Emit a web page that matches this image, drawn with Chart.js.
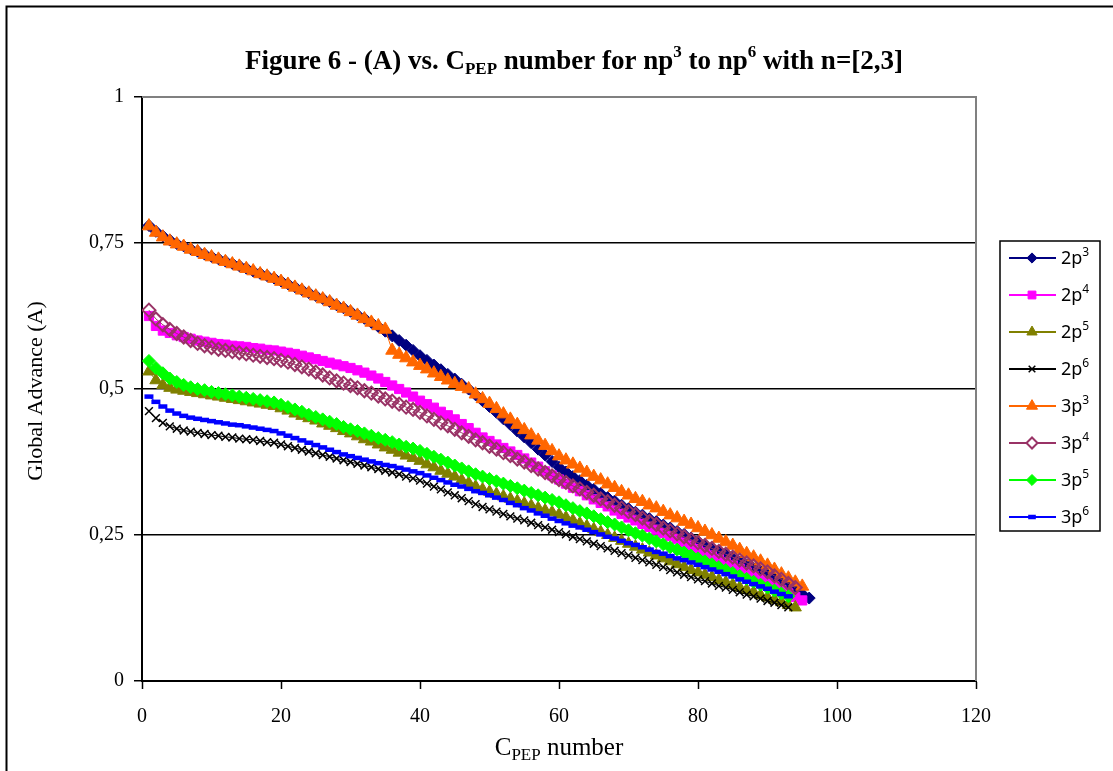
<!DOCTYPE html>
<html>
<head>
<meta charset="utf-8">
<script src="https://cdn.jsdelivr.net/npm/chart.js@4.4.0/dist/chart.umd.min.js"></script>
<style>
html, body { margin: 0; padding: 0; background: #fff; }
#wrap { width: 1113px; height: 771px; position: relative; }
</style>
</head>
<body>
<div id="wrap"><canvas id="fig6"></canvas></div>
<script>
// C_PEP number (x values)
const cpepNumber = [1,2,3,4,5,6,7,8,9,10,11,12,13,14,15,16,17,18,19,20,
  21,22,23,24,25,26,27,28,29,30,31,32,33,34,35,36,37,38,39,40,
  41,42,43,44,45,46,47,48,49,50,51,52,53,54,55,56,57,58,59,60,
  61,62,63,64,65,66,67,68,69,70,71,72,73,74,75,76,77,78,79,80,
  81,82,83,84,85,86,87,88,89,90,91,92,93,94,95,96];

// Global Advance (A)
const adv2p3 = [.780,.770,.762,.755,.749,.745,.740,.736,.731,.727,.723,.719,.715,.711,.707,.702,.698,.694,.690,.685,
  .680,.675,.670,.665,.660,.655,.650,.644,.639,.633,.627,.621,.614,.607,.599,.591,.583,.575,.566,.557,
  .549,.541,.533,.525,.517,.508,.500,.490,.480,.470,.460,.449,.439,.428,.418,.408,.397,.387,.376,.366,
  .358,.350,.343,.335,.328,.321,.314,.308,.301,.295,.289,.284,.278,.273,.267,.262,.256,.251,.245,.239,
  .233,.227,.221,.216,.210,.204,.199,.193,.188,.182,.176,.170,.163,.156,.149,.142];
const adv2p4 = [.625,.608,.600,.596,.592,.589,.586,.583,.581,.579,.577,.576,.574,.573,.572,.570,.569,.567,.566,.564,
  .562,.560,.557,.554,.551,.548,.545,.542,.539,.536,.532,.528,.523,.518,.512,.506,.500,.494,.487,.480,
  .474,.468,.461,.455,.448,.440,.433,.425,.417,.411,.405,.399,.393,.387,.381,.374,.367,.359,.352,.345,
  .338,.331,.325,.318,.311,.305,.299,.292,.286,.280,.275,.269,.264,.259,.253,.248,.243,.237,.232,.226,
  .220,.215,.209,.203,.198,.192,.186,.180,.174,.168,.162,.156,.150,.144,.138];
const adv2p5 = [.530,.515,.507,.502,.499,.497,.495,.493,.491,.489,.487,.485,.483,.481,.479,.477,.475,.473,.471,.467,
  .463,.458,.454,.450,.446,.441,.437,.433,.428,.424,.419,.414,.410,.405,.400,.396,.391,.386,.382,.377,
  .371,.366,.360,.355,.350,.344,.339,.333,.328,.324,.320,.316,.312,.308,.304,.300,.296,.292,.289,.285,
  .280,.275,.270,.265,.260,.255,.250,.245,.240,.235,.230,.225,.220,.215,.210,.205,.200,.195,.190,.186,
  .182,.178,.173,.169,.165,.160,.156,.152,.147,.143,.139,.135,.130,.126];
const adv2p6 = [.462,.450,.442,.436,.432,.429,.427,.425,.423,.421,.420,.418,.417,.415,.414,.413,.411,.409,.408,.405,
  .402,.399,.396,.393,.390,.387,.384,.381,.378,.375,.372,.369,.366,.363,.360,.357,.354,.350,.347,.343,
  .338,.333,.328,.323,.318,.313,.308,.303,.298,.294,.290,.286,.282,.278,.275,.271,.267,.263,.259,.255,
  .251,.247,.243,.239,.235,.231,.227,.223,.219,.215,.211,.207,.203,.199,.195,.190,.186,.182,.178,.174,
  .171,.167,.163,.160,.156,.152,.148,.145,.141,.137,.134,.130,.126];
const adv3p3 = [.779,.768,.760,.753,.748,.744,.739,.735,.730,.726,.722,.718,.714,.710,.706,.702,.697,.693,.689,.684,
  .679,.674,.669,.664,.659,.654,.649,.643,.638,.632,.626,.620,.614,.608,.602,.566,.559,.553,.546,.540,
  .534,.527,.521,.515,.509,.504,.500,.491,.483,.475,.466,.457,.448,.439,.430,.421,.412,.403,.394,.385,
  .378,.371,.364,.357,.350,.344,.337,.331,.324,.318,.312,.307,.301,.296,.290,.284,.279,.273,.268,.262,
  .256,.250,.244,.238,.232,.225,.218,.212,.205,.198,.191,.183,.176,.169,.162];
const adv3p4 = [.635,.620,.610,.602,.595,.589,.583,.578,.574,.571,.568,.566,.564,.562,.560,.558,.556,.554,.552,.549,
  .546,.542,.538,.534,.529,.524,.519,.514,.510,.506,.502,.497,.493,.488,.483,.479,.474,.469,.465,.460,
  .454,.448,.442,.437,.431,.425,.419,.413,.408,.402,.397,.391,.386,.380,.375,.369,.363,.357,.351,.345,
  .340,.334,.329,.323,.318,.312,.307,.301,.296,.290,.285,.279,.273,.268,.262,.257,.252,.247,.242,.237,
  .232,.227,.222,.217,.212,.207,.202,.197,.192,.187,.180,.174,.167,.160];
const adv3p5 = [.548,.536,.527,.518,.512,.507,.503,.500,.498,.495,.493,.491,.489,.487,.485,.483,.481,.479,.477,.473,
  .469,.465,.461,.456,.452,.448,.444,.440,.435,.431,.428,.424,.420,.416,.413,.409,.405,.401,.398,.394,
  .389,.384,.379,.374,.369,.364,.359,.354,.350,.346,.342,.338,.334,.330,.326,.322,.318,.314,.310,.306,
  .301,.296,.291,.287,.282,.277,.272,.268,.263,.258,.253,.249,.244,.239,.234,.229,.225,.220,.215,.210,
  .205,.200,.195,.190,.185,.180,.175,.170,.165,.160,.155,.150,.145];
const adv3p6 = [.487,.478,.470,.463,.458,.454,.451,.449,.447,.445,.443,.441,.439,.438,.436,.434,.432,.430,.428,.424,
  .420,.416,.412,.408,.404,.400,.396,.392,.388,.385,.382,.379,.376,.373,.370,.368,.365,.362,.359,.356,
  .352,.348,.344,.340,.336,.333,.329,.325,.322,.318,.314,.310,.305,.301,.296,.292,.287,.283,.278,.274,
  .270,.266,.263,.259,.255,.251,.247,.244,.240,.236,.233,.229,.225,.221,.218,.214,.210,.207,.203,.199,
  .195,.191,.187,.183,.179,.174,.170,.166,.162,.158,.153,.149,.145];

const seriesValues = [adv2p3, adv2p4, adv2p5, adv2p6, adv3p3, adv3p4, adv3p5, adv3p6];
const seriesBase = ['2p', '2p', '2p', '2p', '3p', '3p', '3p', '3p'];
const seriesPower = ['3', '4', '5', '6', '3', '4', '5', '6'];
const yTickValues = [0, 0.25, 0.5, 0.75, 1];
const xTickValues = [0, 20, 40, 60, 80, 100, 120];

// marker look of each series (Excel default palette)
const looks = [
  { color: '#000080', style: 'rectRot', r: 6, fill: '#000080', bw: 1 },
  { color: '#FF00FF', style: 'rect', r: 6.5, fill: '#FF00FF', bw: 1 },
  { color: '#808000', style: 'triangle', r: 7, fill: '#808000', bw: 1 },
  { color: '#000000', style: 'crossRot', r: 5.5, fill: '#000000', bw: 1.5 },
  { color: '#FF6600', style: 'triangle', r: 7.5, fill: '#FF6600', bw: 1 },
  { color: '#993366', style: 'rectRot', r: 6.5, fill: 'rgba(0,0,0,0)', bw: 2 },
  { color: '#00FF00', style: 'rectRot', r: 6.5, fill: '#00FF00', bw: 1 },
  { color: '#0000FF', style: 'line', r: 4.5, fill: '#0000FF', bw: 4.5 }
];

const serif = '"Liberation Serif", "Times New Roman", serif';

const datasets = seriesValues.map(function (vals, i) {
  const lk = looks[i];
  return {
    label: seriesBase[i] + seriesPower[i],
    data: vals.map(function (v, k) { return { x: cpepNumber[k], y: v }; }),
    borderColor: lk.color,
    backgroundColor: lk.fill,
    borderWidth: 1,
    pointStyle: lk.style,
    pointRadius: lk.r,
    pointBackgroundColor: lk.fill,
    pointBorderColor: lk.color,
    pointBorderWidth: lk.bw,
    showLine: true,
    order: seriesValues.length - i
  };
});

// draw a line of text made of pieces (for sub/superscripts)
function drawRuns(ctx, runs, x, y, center) {
  let total = 0;
  runs.forEach(function (r) { ctx.font = r.font; r.w = ctx.measureText(r.text).width; total += r.w; });
  let cx = center ? x - total / 2 : x;
  runs.forEach(function (r) {
    ctx.font = r.font;
    ctx.fillText(r.text, cx, y + (r.dy || 0));
    cx += r.w;
  });
}

const decorations = {
  id: 'decorations',
  afterDraw(chart) {
    const ctx = chart.ctx;
    const a = chart.chartArea;
    ctx.save();
    // outer frame
    ctx.strokeStyle = '#000';
    ctx.lineWidth = 2;
    ctx.strokeRect(6.5, 6.5, 1300, 1000);

    // grey plot border top and right
    ctx.strokeStyle = '#808080';
    ctx.lineWidth = 2;
    ctx.beginPath();
    ctx.moveTo(a.left, a.top);
    ctx.lineTo(a.right, a.top);
    ctx.lineTo(a.right, a.bottom);
    ctx.stroke();

    ctx.fillStyle = '#000';
    ctx.textAlign = 'left';
    ctx.textBaseline = 'alphabetic';

    // title
    const tb = 'bold 27px ' + serif, ts = 'bold 17px ' + serif;
    drawRuns(ctx, [
      { text: 'Figure 6 - (A) vs. C', font: tb },
      { text: 'PEP', font: ts, dy: 5 },
      { text: ' number for np', font: tb },
      { text: '3', font: ts, dy: -12 },
      { text: ' to np', font: tb },
      { text: '6', font: ts, dy: -12 },
      { text: ' with n=[2,3]', font: tb }
    ], 574, 69, true);

    // x axis title
    drawRuns(ctx, [
      { text: 'C', font: '25px ' + serif },
      { text: 'PEP', font: '17px ' + serif, dy: 5 },
      { text: ' number', font: '25px ' + serif }
    ], (a.left + a.right) / 2, 755, true);

    // y axis title
    ctx.save();
    ctx.translate(42, (a.top + a.bottom) / 2 + 2);
    ctx.rotate(-Math.PI / 2);
    ctx.textAlign = 'center';
    ctx.font = '22px ' + serif;
    ctx.fillText('Global Advance (A)', 0, 0);
    ctx.restore();

    // legend
    const lx = 1000, ly = 241, lw = 100, lh = 290, row0 = 258, gap = 37;
    ctx.fillStyle = '#fff';
    ctx.fillRect(lx, ly, lw, lh);
    ctx.strokeStyle = '#000';
    ctx.lineWidth = 1.5;
    ctx.strokeRect(lx, ly, lw, lh);
    chart.data.datasets.forEach(function (ds, i) {
      const y = row0 + i * gap;
      ctx.strokeStyle = ds.borderColor;
      ctx.lineWidth = 2;
      ctx.beginPath();
      ctx.moveTo(1009, y);
      ctx.lineTo(1056, y);
      ctx.stroke();
      ctx.fillStyle = ds.pointBackgroundColor === 'rgba(0,0,0,0)' ? '#fff' : ds.pointBackgroundColor;
      ctx.strokeStyle = ds.pointBorderColor;
      ctx.lineWidth = ds.pointBorderWidth;
      Chart.helpers.drawPoint(ctx, {
        pointStyle: ds.pointStyle, radius: ds.pointRadius * 0.85, rotation: 0, borderWidth: ds.pointBorderWidth
      }, 1032, y);
      ctx.fillStyle = '#000';
      drawRuns(ctx, [
        { text: seriesBase[i], font: '18px "Noto Sans", sans-serif' },
        { text: seriesPower[i], font: '12px "Noto Sans", sans-serif', dy: -8 }
      ], 1061, y + 6, false);
    });
    ctx.restore();
  }
};

new Chart(document.getElementById('fig6'), {
  type: 'scatter',
  data: { datasets: datasets },
  options: {
    responsive: true,
    maintainAspectRatio: false,
    animation: false,
    devicePixelRatio: 1,
    layout: { padding: { top: 97, right: 137, left: 0, bottom: 0 } },
    plugins: {
      legend: { display: false },
      title: { display: false },
      tooltip: { enabled: false }
    },
    scales: {
      x: {
        type: 'linear',
        min: 0,
        max: 120,
        afterFit: function (s) { s.height = 90; },
        afterBuildTicks: function (s) { s.ticks = xTickValues.map(function (v) { return { value: v }; }); },
        grid: { drawOnChartArea: false, drawTicks: true, tickLength: 8, tickColor: '#000', tickWidth: 1.5 },
        border: { color: '#000', width: 2 },
        ticks: { color: '#000', padding: 16, font: { family: serif, size: 20 } }
      },
      y: {
        min: 0,
        max: 1,
        afterFit: function (s) { s.width = 142; },
        afterBuildTicks: function (s) { s.ticks = yTickValues.map(function (v) { return { value: v }; }); },
        grid: {
          color: function (c) { return (c.tick && c.tick.value > 0 && c.tick.value < 1) ? '#000' : 'rgba(0,0,0,0)'; },
          lineWidth: 1.5,
          tickLength: 8,
          tickColor: '#000',
          tickWidth: 1.5
        },
        border: { color: '#000', width: 2 },
        ticks: {
          color: '#000',
          padding: 10,
          font: { family: serif, size: 20 },
          callback: function (v) { return String(v).replace('.', ','); }
        }
      }
    }
  },
  plugins: [decorations]
});
</script>
</body>
</html>
